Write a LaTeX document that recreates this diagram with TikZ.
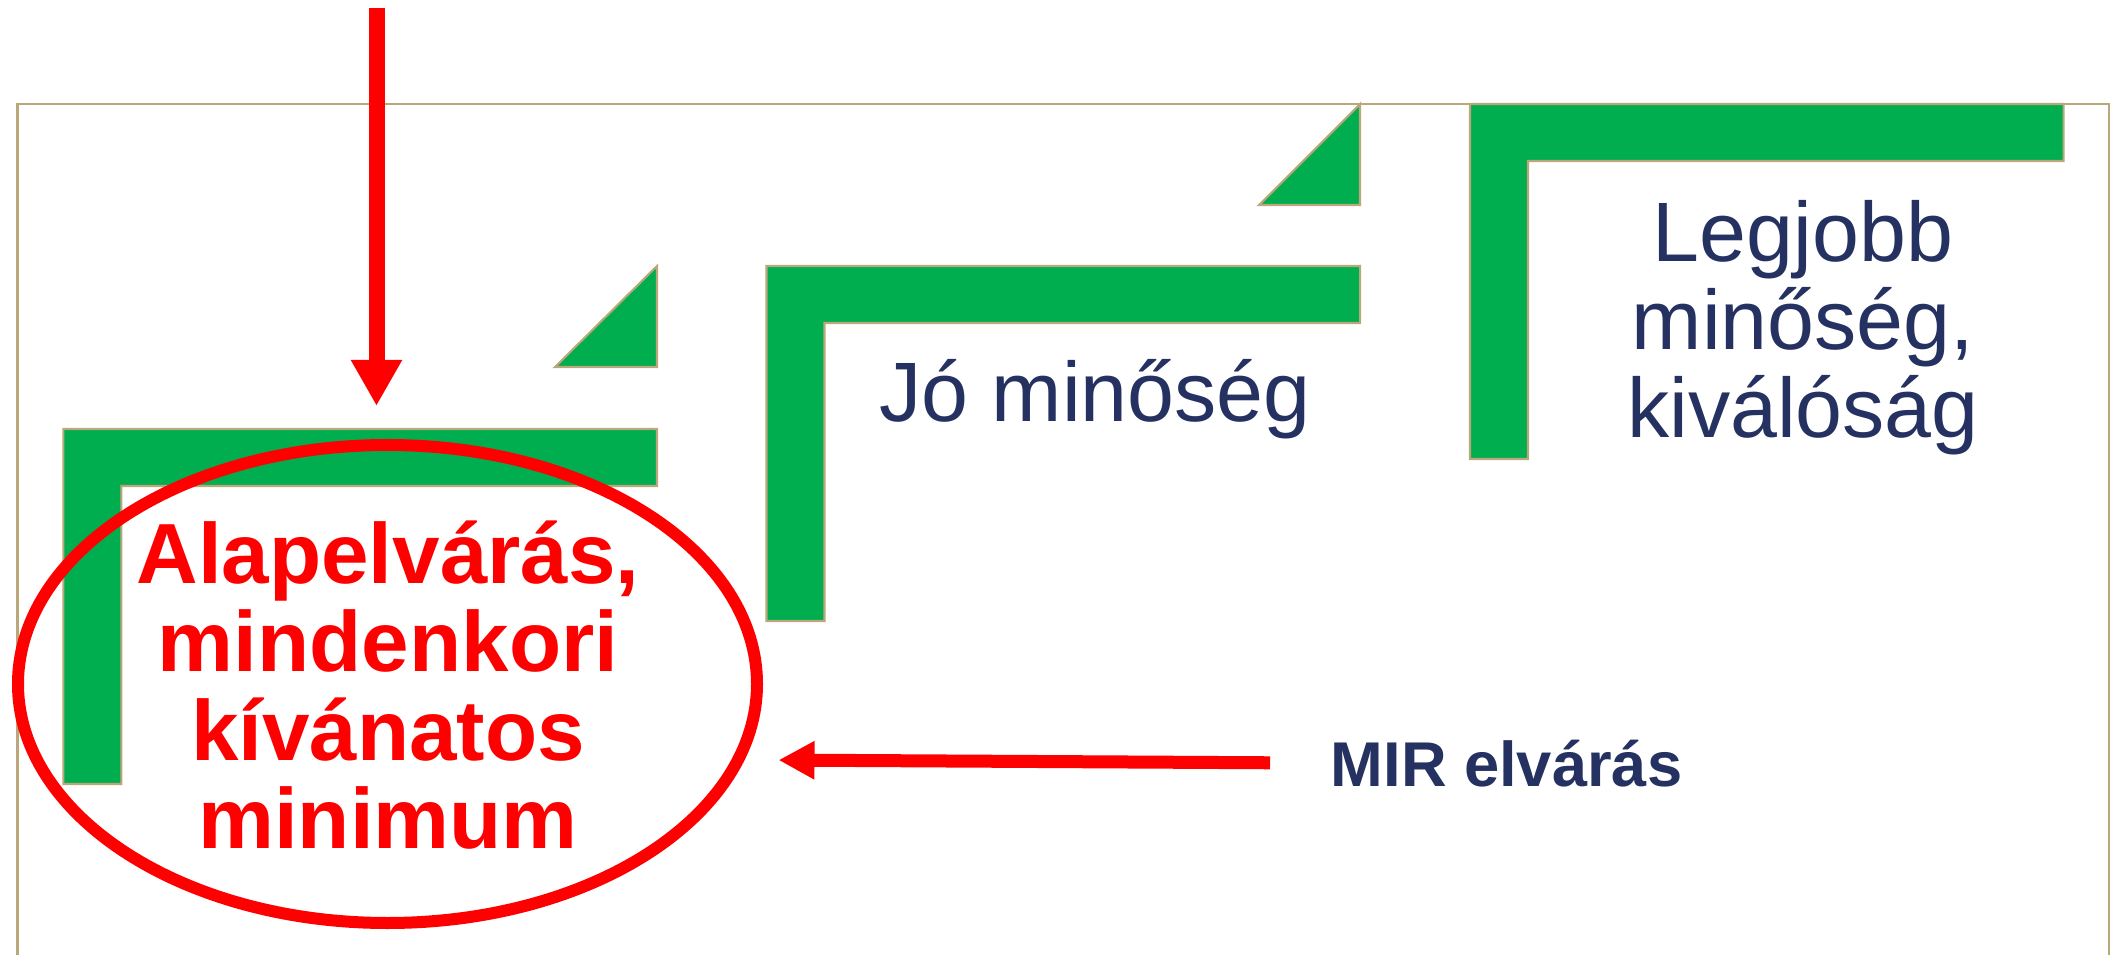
\documentclass[tikz,border=0pt]{standalone}
\usepackage{fontspec}
\setmainfont{Liberation Sans}
\usetikzlibrary{arrows.meta,shapes.geometric}
\definecolor{zold}{RGB}{0,174,80}
\definecolor{keret}{RGB}{186,167,122}
\definecolor{sotetkek}{RGB}{37,49,97}

\begin{document}
\begin{tikzpicture}[line join=miter, font=\fontsize{24}{25}\selectfont,
		lepcso/.style={fill=zold, draw=keret, line width=0.6pt},
		piros/.style={draw=red, line width=0.16cm, -{Triangle[width=0.48cm,length=0.46cm]}}]
			\useasboundingbox (0,0) rectangle (21.16,9.55);
			\draw[keret, line width=0.6pt] (0.175,0) |- (21.09,8.51) -- (21.09,0);
			% lepcsok
			\filldraw[lepcso] (0.634,5.26) -- ++(5.936,0) -- ++(0,-0.57) -- ++(-5.356,0) -- ++(0,-2.98) -- ++(-0.58,0) -- cycle;
			\filldraw[lepcso] (7.665,6.89) -- ++(5.936,0) -- ++(0,-0.57) -- ++(-5.356,0) -- ++(0,-2.98) -- ++(-0.58,0) -- cycle;
			\filldraw[lepcso] (14.70,8.51) -- ++(5.936,0) -- ++(0,-0.57) -- ++(-5.356,0) -- ++(0,-2.98) -- ++(-0.58,0) -- cycle;
			\filldraw[lepcso] (5.55,5.88) -- (6.57,6.89) -- (6.57,5.88) -- cycle;
			\filldraw[lepcso] (12.59,7.50) -- (13.60,8.51) -- (13.60,7.50) -- cycle;
			% szovegek
			\node[text=sotetkek, anchor=base] (jo) at (10.95,5.33) {Jó minőség};
			\node[text=sotetkek, align=center] (legjobb) at (18.03,6.27) {Legjobb\\minőség,\\kiválóság};
			\node[text=sotetkek, font=\bfseries\fontsize{18}{20}\selectfont, anchor=base west, inner sep=0] (mir) at (13.30,1.69) {MIR elvárás};
			\node[ellipse, draw=red, line width=0.12cm, minimum width=7.39cm, minimum height=4.78cm, inner sep=0] (gyuru) at (3.875,2.71) {};
			\node[text=red, font=\bfseries\fontsize{24.3}{25.2}\selectfont, align=center] (alap) at (3.88,2.70) {Alapelvárás,\\mindenkori\\kívánatos\\minimum};
			% nyilak
			\coordinate (fent) at (3.765,9.47);
			\draw[piros, shorten >=0.33cm] (fent) -- (fent |- gyuru.north);
			\draw[piros, line width=0.13cm, -{Triangle[width=0.36cm,length=0.36cm]}, shorten <=0.6cm, shorten >=0.34cm] (mir.west) -- (gyuru.-12);
		\end{tikzpicture}
\end{document}
